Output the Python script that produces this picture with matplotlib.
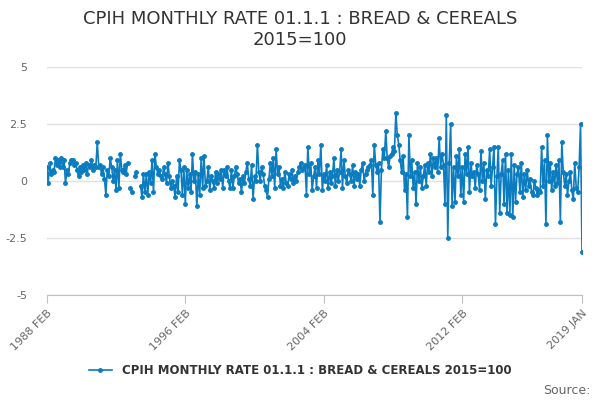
import matplotlib.pyplot as plt
import numpy as np
import pandas as pd

nan = np.nan
values = [
    0.6, -0.1, 0.8, 0.3, 0.5, 0.4, 1.0, 0.7, 0.9, 0.6, 1.0,
    0.6, 0.9, -0.1, 0.5, 0.3, 0.8, 0.9, 0.9, 0.7, 0.8, 0.5, 0.2,
    0.6, 0.4, 0.7, 0.5, 0.8, 0.3, 0.7, 0.6, 0.9, 0.5, 0.7, 0.6,
    1.7, 0.6, 0.7, 0.3, 0.6, 0.1, -0.6, 0.5, 0.2, 1.0, 0.6, 0.0,
    0.5, -0.4, 0.9, -0.3, 1.2, 0.5, 0.4, 0.7, 0.3, 0.8, nan, -0.3,
    -0.5, nan, 0.2, 0.4, nan, nan, -0.2, -0.7, 0.3, -0.5, 0.3, -0.6,
    0.4, -0.1, 0.9, -0.5, 1.2, 0.6, 0.3, 0.5, 0.2, 0.1, 0.6, 0.3,
    -0.1, 0.8, 0.2, -0.3, 0.0, -0.2, -0.7, 0.2, -0.5, 0.9, 0.5, -0.6,
    0.6, -1.0, 0.5, -0.3, 0.3, -0.5, 1.2, 0.0, 0.4, -1.1, 0.3, -0.6,
    1.0, -0.3, 1.1, -0.2, 0.0, 0.6, -0.4, 0.2, 0.0, -0.3, 0.4, -0.1,
    0.3, 0.1, 0.5, -0.3, 0.5, 0.2, 0.6, 0.0, -0.3, 0.5, -0.3, 0.2,
    0.6, 0.3, -0.1, 0.1, -0.5, 0.2, -0.1, 0.4, 0.8, 0.1, -0.2, 0.7,
    -0.8, 0.2, 0.0, 1.6, 0.4, 0.0, 0.6, 0.3, -0.2, -0.4, -0.7, 0.1,
    0.8, 0.2, 1.0, -0.3, 1.4, 0.3, 0.6, -0.2, 0.1, -0.3, 0.4, -0.1,
    -0.2, 0.3, 0.1, 0.5, -0.1, 0.2, 0.0, 0.4, 0.6, 0.8, 0.5, 0.6,
    0.7, -0.6, 1.5, 0.3, 0.8, -0.4, 0.2, 0.6, -0.3, 0.9, 0.3, 1.6,
    -0.4, 0.3, 0.0, 0.7, -0.3, 0.4, -0.1, 0.2, 1.0, -0.2, 0.5, 0.0,
    0.4, 1.4, -0.3, 0.9, 0.2, -0.1, 0.5, 0.3, 0.0, 0.7, -0.2, 0.4,
    0.1, 0.3, -0.2, 0.5, 0.8, 0.0, 0.3, 0.5, 0.6, 0.7, 0.9, -0.6,
    1.6, 0.7, 0.4, 0.8, -1.8, 0.5, 1.4, 1.0, 2.2, 1.0, 0.6, 1.1,
    1.2, 1.5, 1.3, 3.0, 2.0, 1.6, 0.9, 0.4, 1.1, -0.4, 0.3, -1.6,
    2.0, 0.2, 0.9, -0.3, 0.4, -1.0, 0.8, 0.0, 0.6, -0.3, 0.2, 0.7,
    -0.2, 0.8, 0.4, 1.2, 0.2, 1.0, 0.6, 1.0, 0.4, 1.9, 0.6, 1.2,
    0.7, -1.0, 2.9, -2.5, 0.8, 2.5, -1.1, 0.6, -0.9, 1.1, 0.2, 1.4,
    -0.6, 0.6, -0.9, 1.2, 0.3, 1.5, -0.5, 0.8, 0.2, 0.4, -0.3, 0.7,
    0.3, -0.4, 1.3, 0.0, 0.8, -0.8, 0.5, 0.2, 1.4, -0.2, 0.6, 1.5,
    -1.9, 0.2, 1.5, -1.4, 0.3, 0.9, -1.0, 1.2, -1.4, 0.5, -1.5, 1.2,
    -1.6, 0.7, -0.9, 0.3, 0.6, -0.5, 0.8, -0.7, 0.3, -0.4, 0.5, -0.2,
    0.1, -0.5, -0.6, 0.0, -0.3, -0.6, -0.4, -0.5, 1.5, -0.2, 0.9, -1.9,
    2.0, 0.0, 0.8, -0.4, 0.4, -0.2, 0.7, -0.1, 0.9, -1.8, 1.7, 0.4,
    -0.2, 0.3, -0.6, 0.0, 0.4, -0.4, -0.8, 0.8, -0.3, -0.5, 0.6, 2.5,
    -3.1,
]
dates = pd.date_range("1988-02-01", periods=len(values), freq="MS")
tick_dates = pd.to_datetime(["1988-02-01", "1996-02-01", "2004-02-01", "2012-02-01", "2019-01-01"])
tick_labels = ["1988 FEB", "1996 FEB", "2004 FEB", "2012 FEB", "2019 JAN"]
series_name = "CPIH MONTHLY RATE 01.1.1 : BREAD & CEREALS 2015=100"

color = "#0b7cc0"
fig = plt.figure(figsize=(6, 4), dpi=100)
ax = fig.add_axes([0.078, 0.2625, 0.892, 0.57])
ax.plot(dates, values, color=color, lw=1.2, marker="o", ms=2.5, label=series_name)

ax.set_ylim(-5, 5)
ax.set_yticks([-5, -2.5, 0, 2.5, 5])
ax.set_yticklabels(["-5", "-2.5", "0", "2.5", "5"])
ax.set_xlim(dates[0], dates[-1])
ax.set_xticks(tick_dates)
ax.set_xticklabels(tick_labels, rotation=45, ha="right", rotation_mode="anchor")
ax.grid(axis="y", color="#e0e0e0", lw=1)
for s in ["top", "right", "left"]:
    ax.spines[s].set_visible(False)
ax.spines["bottom"].set_color("#c0c0c0")
ax.tick_params(axis="y", length=0, labelsize=8, colors="#666666", pad=14)
ax.tick_params(axis="x", labelsize=8, colors="#666666", color="#c0c0c0", length=6)

fig.suptitle("CPIH MONTHLY RATE 01.1.1 : BREAD & CEREALS\n2015=100", y=0.975,
             fontsize=13, color="#333333")
fig.legend(loc="lower center", bbox_to_anchor=(0.5, 0.03), frameon=False,
           prop={"size": 8.5, "weight": "bold"}, labelcolor="#333333")
fig.text(0.985, 0.015, "Source:", ha="right", fontsize=9, color="#666666")
fig.savefig("out.png")
